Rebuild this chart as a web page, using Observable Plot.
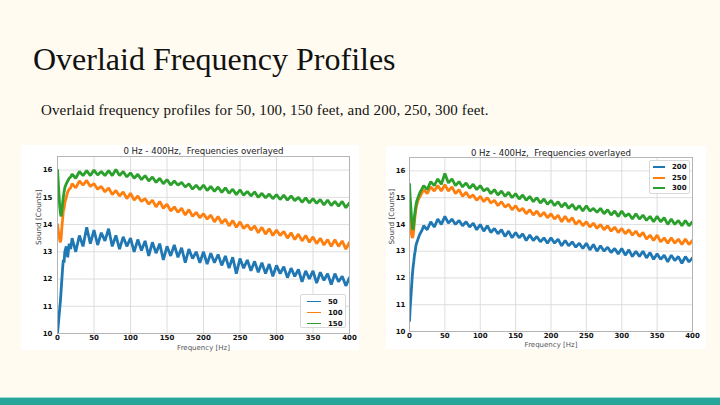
<!DOCTYPE html>
<html><head><meta charset="utf-8">
<script src="https://cdn.jsdelivr.net/npm/d3@7"></script>
<script src="https://cdn.jsdelivr.net/npm/@observablehq/plot@0.6"></script>
<style>
html,body{margin:0;padding:0;}
body{width:720px;height:405px;background:#FFFBF0;position:relative;overflow:hidden;}
#title{position:absolute;left:33px;top:42.7px;margin:0;font-family:"Liberation Serif",serif;font-size:32px;line-height:32px;font-weight:normal;color:#111;white-space:nowrap;}
#sub{position:absolute;left:41px;top:103.4px;margin:0;font-family:"Liberation Serif",serif;font-size:15px;line-height:15px;letter-spacing:0.14px;color:#111;white-space:nowrap;}
.box{position:absolute;background:#fff;}
.legend{position:absolute;background:#fff;border:1px solid #d8d8d8;border-radius:2px;box-sizing:border-box;}
.legend .row{position:absolute;left:0;height:10px;width:100%;}
.legend .sw{position:absolute;}
.legend .lb{position:absolute;font-family:"DejaVu Sans",sans-serif;font-weight:bold;font-size:7px;line-height:10px;top:0;color:#111;}
#bar{position:absolute;left:0;top:397px;width:720px;height:8px;background:#26A69A;border-top:1px solid #9fdcd5;box-sizing:border-box;}
</style></head>
<body>
<div id="title">Overlaid Frequency Profiles</div>
<div id="sub">Overlaid frequency profiles for 50, 100, 150 feet, and 200, 250, 300 feet.</div>
<div class="box" id="c1" style="left:21px;top:145px;width:338px;height:205px;"></div>
<div class="box" id="c2" style="left:386px;top:146px;width:320px;height:203px;"></div>
<div id="bar"></div>
<script>
const chartTitle = "0 Hz - 400Hz,\u00a0 Frequencies overlayed";
const xLabel = "Frequency [Hz]";
const yLabel = "Sound [Counts]";
const xTicks = [0, 50, 100, 150, 200, 250, 300, 350, 400];
const yTicks = [10, 11, 12, 13, 14, 15, 16];
const colors = ["#1f77b4", "#ff7f0e", "#2ca02c"];
const namesA = ["50", "100", "150"];
const namesB = ["200", "250", "300"];

const freq = [0,1,2,3,4,5,6,7,8,9,10,12,14,16,18,
  20,25,30,35,40,45,50,55,60,65,70,75,80,85,90,95,100,105,110,115,
  120,125,130,135,140,145,150,155,160,165,170,175,180,185,190,195,
  200,205,210,215,220,225,230,235,240,245,250,255,260,265,270,275,
  280,285,290,295,300,305,310,315,320,325,330,335,340,345,350,355,
  360,365,370,375,380,385,390,395,400];

const s50 = [10.0,10.3,10.6,10.9,11.2,11.6,12.0,12.4,12.7,12.6,13.0,13.2,12.8,13.3,13.1,
  13.5,13.0,13.6,13.2,13.9,13.3,13.8,13.25,13.7,13.4,
  13.85,13.2,13.6,13.1,13.55,13.2,13.5,13.0,13.45,13.05,
  13.4,12.85,13.35,12.95,13.3,12.7,13.2,12.85,13.25,12.8,
  13.15,12.6,13.1,12.75,13.0,12.6,13.0,12.55,12.95,12.6,
  12.9,12.5,12.85,12.4,12.8,12.2,12.75,12.4,12.7,12.3,
  12.65,12.25,12.6,12.2,12.55,12.1,12.5,12.2,12.45,12.05,
  12.4,12.1,12.35,11.9,12.3,12.0,12.3,11.85,12.25,11.95,
  12.2,11.8,12.2,11.9,12.1,11.75,12.05];
const s100 = [14.0,13.8,13.6,13.45,13.35,13.5,13.9,14.2,14.5,14.6,14.8,15.0,15.2,15.3,15.35,
  15.5,15.35,15.6,15.45,15.62,15.4,15.5,15.3,15.4,15.2,
  15.35,15.1,15.25,15.05,15.2,14.95,15.15,14.9,15.05,14.85,
  14.95,14.75,14.9,14.65,14.85,14.6,14.75,14.5,14.65,14.45,
  14.6,14.35,14.55,14.3,14.45,14.25,14.4,14.2,14.35,14.1,
  14.3,14.05,14.2,13.95,14.15,13.9,14.1,13.85,14.0,13.8,
  13.95,13.7,13.9,13.65,13.85,13.6,13.8,13.6,13.75,13.5,
  13.7,13.45,13.65,13.4,13.6,13.35,13.55,13.3,13.5,13.25,
  13.45,13.2,13.45,13.2,13.4,13.1,13.35];
const s150 = [16.0,15.6,15.1,14.7,14.4,14.3,14.5,14.8,15.0,15.2,15.35,15.5,15.6,15.7,15.75,
  15.85,15.7,15.95,15.8,15.98,15.8,16.0,15.82,15.95,15.8,
  15.98,15.8,16.02,15.8,15.95,15.75,15.9,15.7,15.85,15.65,
  15.8,15.6,15.75,15.55,15.7,15.5,15.65,15.45,15.6,15.45,
  15.55,15.38,15.5,15.3,15.45,15.28,15.45,15.25,15.4,15.22,
  15.38,15.18,15.35,15.15,15.3,15.1,15.28,15.08,15.22,15.05,
  15.2,15.0,15.15,14.98,15.12,14.95,15.1,14.92,15.08,14.9,
  15.05,14.88,15.0,14.82,14.98,14.8,14.95,14.78,14.92,14.72,
  14.9,14.7,14.85,14.68,14.85,14.62,14.8];
const s200 = [10.4,10.9,11.3,11.7,12.1,12.4,12.6,12.85,13.0,13.2,13.3,13.45,13.6,13.7,13.8,
  13.95,13.8,14.1,13.9,14.2,14.0,14.3,14.05,14.2,14.0,
  14.15,13.95,14.1,13.9,14.05,13.8,14.0,13.75,13.95,13.7,
  13.85,13.65,13.8,13.55,13.75,13.5,13.7,13.5,13.65,13.4,
  13.6,13.4,13.55,13.35,13.5,13.3,13.5,13.3,13.45,13.2,
  13.4,13.2,13.35,13.15,13.3,13.1,13.3,13.05,13.25,13.0,
  13.2,13.0,13.15,12.95,13.1,12.9,13.1,12.85,13.05,12.8,
  13.0,12.8,13.0,12.75,12.95,12.7,12.9,12.7,12.85,12.6,
  12.85,12.65,12.8,12.55,12.8,12.6,12.75];
const s250 = [14.6,14.2,13.9,13.6,13.5,13.55,13.8,14.1,14.35,14.55,14.7,14.9,15.0,15.1,15.2,
  15.3,15.15,15.4,15.25,15.45,15.25,15.48,15.25,15.4,15.15,
  15.3,15.05,15.2,15.0,15.1,14.9,15.05,14.85,15.0,14.8,
  14.9,14.7,14.85,14.65,14.75,14.55,14.7,14.5,14.6,14.4,
  14.55,14.35,14.5,14.3,14.45,14.25,14.4,14.2,14.35,14.1,
  14.3,14.1,14.25,14.0,14.15,13.95,14.1,13.9,14.05,13.85,
  14.0,13.8,13.95,13.75,13.9,13.7,13.85,13.65,13.8,13.6,
  13.75,13.55,13.7,13.45,13.6,13.4,13.6,13.35,13.5,13.3,
  13.5,13.3,13.45,13.25,13.45,13.25,13.4];
const s300 = [15.5,15.0,14.6,14.2,13.9,13.8,14.0,14.3,14.5,14.7,14.85,15.0,15.15,15.25,15.35,
  15.45,15.3,15.6,15.45,15.7,15.5,15.9,15.55,15.7,15.45,
  15.6,15.4,15.55,15.35,15.5,15.3,15.45,15.25,15.35,15.15,
  15.3,15.1,15.25,15.05,15.2,15.0,15.15,14.95,15.1,14.9,
  15.05,14.85,15.0,14.8,14.95,14.75,14.9,14.7,14.85,14.65,
  14.8,14.6,14.75,14.55,14.7,14.5,14.7,14.5,14.6,14.45,
  14.6,14.4,14.55,14.35,14.5,14.3,14.5,14.3,14.4,14.2,
  14.4,14.2,14.35,14.15,14.3,14.1,14.3,14.1,14.25,14.0,
  14.2,14.0,14.15,13.95,14.15,13.95,14.1];

function rows(names, series) {
  return names.flatMap((n, i) => freq.map((f, j) => ({f, v: series[i][j], s: n})));
}

function chart(names, series, o) {
  const data = rows(names, series);
  return Plot.plot({
    width: o.width, height: o.height,
    marginLeft: o.ml, marginRight: o.mr, marginTop: o.mt, marginBottom: o.mb,
    style: {fontFamily: "DejaVu Sans, sans-serif", background: "transparent", overflow: "visible"},
    x: {domain: [0, 400], label: null},
    y: {domain: [10, 16.5], label: null},
    color: {domain: names, range: colors},
    marks: [
      Plot.gridX(xTicks, {stroke: "#d6d6d6", strokeOpacity: 1, strokeWidth: 0.8}),
      Plot.gridY(yTicks, {stroke: "#d6d6d6", strokeOpacity: 1, strokeWidth: 0.8}),
      Plot.line(data, {x: "f", y: "v", z: "s", stroke: "s", strokeWidth: 2.8, strokeLinejoin: "miter", clip: true}),
      Plot.frame({stroke: "#b0b0b0", strokeWidth: 0.9}),
      Plot.axisX(xTicks, {tickSize: 0, tickPadding: 1.5, fontSize: 7, fontWeight: "bold", fill: "#111", label: null}),
      Plot.axisY(yTicks, {tickSize: 0, tickPadding: o.ytp, fontSize: 7, fontWeight: "bold", fill: "#111", label: null}),
      Plot.text([chartTitle], {frameAnchor: "top", dy: o.tdy, fontSize: 8.6, fill: "#222", lineAnchor: "middle"}),
      Plot.text([xLabel], {frameAnchor: "bottom", dy: o.xdy, fontSize: 7, fill: "#555", lineAnchor: "middle"}),
      Plot.text([yLabel], {frameAnchor: "left", dx: o.ydx, rotate: -90, fontSize: 7.2, fill: "#444", lineAnchor: "middle"})
    ]
  });
}

document.getElementById("c1").appendChild(chart(namesA, [s50, s100, s150],
  {width: 338, height: 205, ml: 36, mr: 10, mt: 11, mb: 17, ytp: 5, tdy: -5, xdy: 14, ydx: -19}));
document.getElementById("c2").appendChild(chart(namesB, [s200, s250, s300],
  {width: 320, height: 203, ml: 23, mr: 14, mt: 11, mb: 18, ytp: 4, tdy: -4.6, xdy: 13.5, ydx: -18}));

function legend(names, o) {
  const el = document.createElement("div");
  el.className = "legend";
  Object.assign(el.style, {left: o.left + "px", top: o.top + "px", width: o.w + "px", height: o.h + "px"});
  names.forEach((n, i) => {
    const r = document.createElement("div");
    r.className = "row";
    r.style.top = (o.row0 + i * o.step - 5) + "px";
    const sw = document.createElement("div");
    sw.className = "sw";
    Object.assign(sw.style, {left: o.swx + "px", width: o.sww + "px", top: (5 - o.lw / 2) + "px", height: o.lw + "px", background: colors[i]});
    const lb = document.createElement("div");
    lb.className = "lb";
    lb.style.left = o.lbx + "px";
    lb.textContent = n;
    r.appendChild(sw); r.appendChild(lb);
    el.appendChild(r);
  });
  document.body.appendChild(el);
}
legend(namesA, {left: 300, top: 294, w: 46, h: 34, row0: 6.5, step: 11, swx: 6, sww: 14, lw: 1.2, lbx: 27});
legend(namesB, {left: 649, top: 160, w: 41, h: 34, row0: 6, step: 10.7, swx: 2.5, sww: 12, lw: 2, lbx: 22});
</script>
</body></html>
